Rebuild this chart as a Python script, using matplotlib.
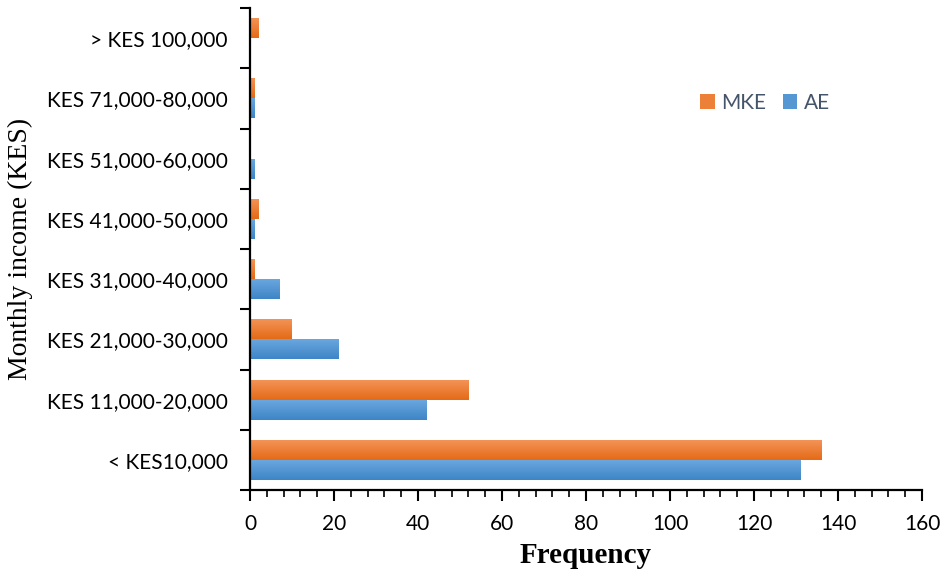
import numpy as np
import matplotlib.pyplot as plt
from matplotlib.colors import LinearSegmentedColormap
from matplotlib.ticker import MultipleLocator, FixedLocator

categories = ['< KES10,000', 'KES 11,000-20,000', 'KES 21,000-30,000', 'KES 31,000-40,000',
              'KES 41,000-50,000', 'KES 51,000-60,000', 'KES 71,000-80,000', '> KES 100,000']
ae = [131, 42, 21, 7, 1, 1, 1, 0]
mke = [136, 52, 10, 1, 2, 0, 1, 2]

fig = plt.figure(figsize=(9.45, 5.77), dpi=100)
ax = fig.add_axes([0.2646, 0.1508, 0.9757 - 0.2646, 0.986 - 0.1508])

y = np.arange(len(categories))
h = 0.333

# gradient fill like the office chart (light on top, darker at bottom)
blue_cm = LinearSegmentedColormap.from_list('b', ['#3E85C6', '#6CA8E0'])
orange_cm = LinearSegmentedColormap.from_list('o', ['#E46B16', '#F4955A'])
grad = np.linspace(0, 1, 64).reshape(-1, 1)

def gbars(vals, offset, cmap, label):
    bars = ax.barh(y + offset, vals, height=h, color=cmap(0.5), label=label, linewidth=0)
    for b in bars:
        if b.get_width() <= 0:
            continue
        x0, y0 = b.get_x(), b.get_y()
        im = ax.imshow(grad, cmap=cmap, origin='lower', aspect='auto',
                       extent=[x0, x0 + b.get_width(), y0, y0 + b.get_height()], zorder=2)
        im.set_clip_path(b)
    return bars

gbars(ae, -h / 2, blue_cm, 'AE')
gbars(mke, h / 2, orange_cm, 'MKE')

ax.set_xlim(0, 160)
ax.set_ylim(-0.5, len(categories) - 0.5)

for s in ['top', 'right']:
    ax.spines[s].set_visible(False)
for s in ['left', 'bottom']:
    ax.spines[s].set_linewidth(1.6)

ax.xaxis.set_major_locator(MultipleLocator(20))
ax.xaxis.set_minor_locator(MultipleLocator(4))
ax.tick_params(axis='x', which='major', direction='out', length=8, width=1.5, labelsize=15, pad=9)
ax.tick_params(axis='x', which='minor', direction='out', length=5, width=1.2)

ax.yaxis.set_major_locator(FixedLocator(y))
ax.set_yticklabels(categories)
ax.yaxis.set_minor_locator(FixedLocator(np.arange(-0.5, len(categories), 1)))
ax.tick_params(axis='y', which='major', length=0, labelsize=15, pad=16)
ax.tick_params(axis='y', which='minor', direction='out', length=7, width=1.5)

for lbl in ax.get_xticklabels() + ax.get_yticklabels():
    lbl.set_fontfamily('Lato')

ax.set_xlabel('Frequency', fontfamily='Liberation Serif', fontweight='bold', fontsize=21, labelpad=6)
ax.set_ylabel('Monthly income (KES)', fontfamily='Liberation Serif', fontsize=20, labelpad=10)

handles, labels = ax.get_legend_handles_labels()
leg = ax.legend(handles[::-1], labels[::-1], loc='center left', bbox_to_anchor=(0.642, 0.803),
                ncol=2, frameon=False, handlelength=0.7, handleheight=0.7,
                handletextpad=0.3, columnspacing=0.8,
                prop={'family': 'Lato', 'size': 15})
for t in leg.get_texts():
    t.set_color('#44546A')

fig.savefig('out.png', dpi=100)
